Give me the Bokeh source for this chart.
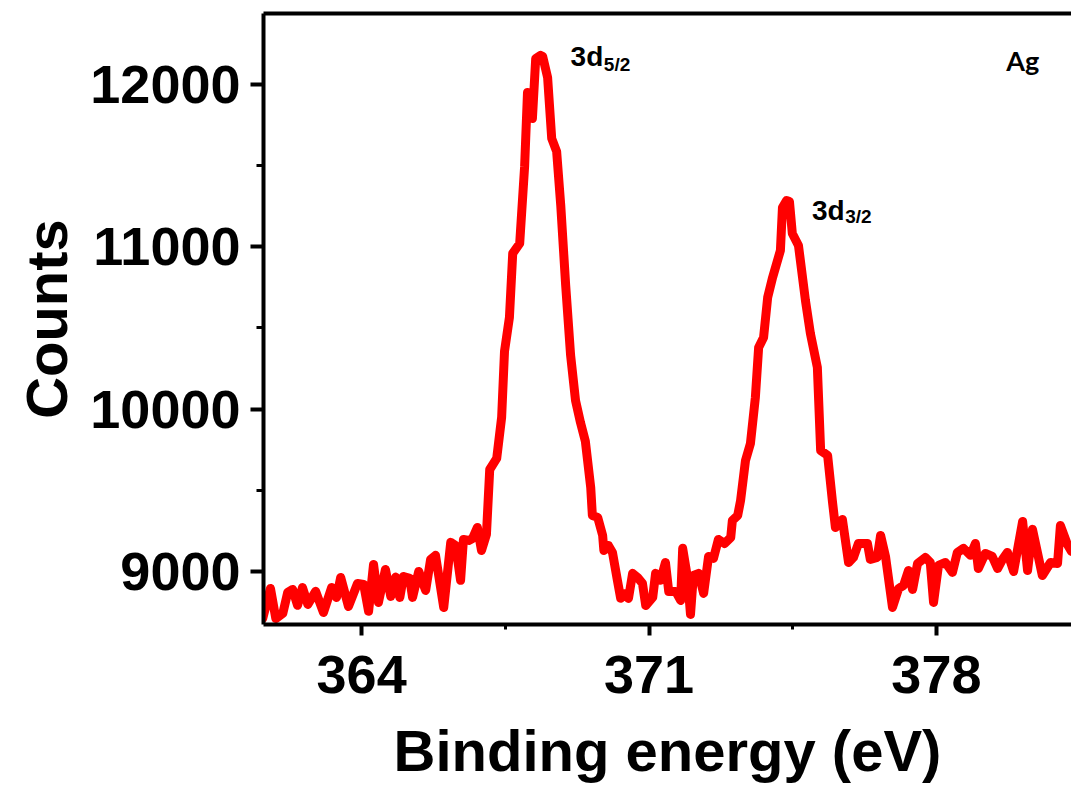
from bokeh.plotting import figure
from bokeh.models import Range1d, FixedTicker, LinearAxis, Label
from bokeh.embed import file_html
from bokeh.resources import INLINE

# Binding energy (eV) and counts
energy = [361.59, 361.78, 361.91, 362.08, 362.20, 362.32, 362.44, 362.56, 362.69, 362.88,
          363.07, 363.27, 363.39, 363.49, 363.68, 363.90, 364.05, 364.17, 364.29, 364.41,
          364.58, 364.71, 364.83, 364.93, 365.02, 365.17, 365.24, 365.39, 365.56, 365.68,
          365.80, 366.00, 366.17, 366.29, 366.41, 366.48, 366.61, 366.70, 366.82, 366.92,
          367.04, 367.12, 367.29, 367.41, 367.48, 367.60, 367.68, 367.85, 367.97, 368.04,
          368.16, 368.24, 368.36, 368.41, 368.53, 368.63, 368.75, 368.85, 368.97, 369.09,
          369.21, 369.33, 369.45, 369.58, 369.62, 369.75, 369.87, 369.90, 370.01, 370.11,
          370.23, 370.31, 370.43, 370.50, 370.60, 370.72, 370.84, 370.92, 371.09, 371.16,
          371.28, 371.40, 371.48, 371.65, 371.77, 371.82, 371.94, 372.01, 372.08, 372.21,
          372.33, 372.45, 372.57, 372.69, 372.84, 372.99, 373.03, 373.16, 373.23, 373.35,
          373.47, 373.59, 373.67, 373.79, 373.89, 374.01, 374.20, 374.25, 374.35, 374.42,
          374.49, 374.64, 374.81, 374.93, 375.10, 375.18, 375.35, 375.47, 375.54, 375.71,
          375.86, 375.98, 376.10, 376.32, 376.39, 376.56, 376.64, 376.76, 376.93, 377.08,
          377.20, 377.32, 377.42, 377.54, 377.73, 377.85, 377.93, 378.05, 378.22, 378.39,
          378.51, 378.66, 378.83, 378.95, 379.02, 379.19, 379.36, 379.49, 379.61, 379.73,
          379.88, 380.10, 380.22, 380.34, 380.58, 380.78, 380.95, 381.02, 381.19, 381.29]

counts = [8710, 8895, 8710, 8741, 8871, 8889, 8791, 8901, 8797, 8877,
          8747, 8901, 8840, 8963, 8784, 8926, 8920, 8754, 9043, 8809,
          9012, 8846, 8965, 8840, 8969, 8957, 8840, 9000, 8883, 9074,
          9099, 8778, 9179, 9160, 8945, 9197, 9191, 9203, 9271, 9129,
          9228, 9628, 9696, 9949, 10355, 10565, 10959, 11020, 11495, 11951,
          11790, 12160, 12179, 12172, 12043, 11667, 11587, 11255, 10762, 10331,
          10053, 9918, 9801, 9517, 9345, 9333, 9222, 9129, 9160, 9117,
          8945, 8834, 8864, 8834, 8988, 8963, 8926, 8790, 8840, 8988,
          8945, 9055, 8877, 8877, 8821, 9142, 8957, 8735, 8975, 8988,
          8864, 9092, 9080, 9197, 9172, 9209, 9314, 9345, 9437, 9684,
          9788, 10072, 10380, 10441, 10688, 10811, 10977, 11242, 11285, 11279,
          11082, 11008, 10669, 10466, 10257, 9745, 9715, 9425, 9271, 9320,
          9055, 9086, 9172, 9172, 9074, 9086, 9222, 9092, 8778, 8895,
          8914, 9006, 8889, 9049, 9086, 9055, 8809, 9037, 9055, 8994,
          9117, 9142, 9099, 9172, 9018, 9111, 9092, 9018, 9074, 9117,
          9000, 9308, 9006, 9259, 8975, 9055, 9049, 9283, 9166, 9123]

x_ticks = [364, 371, 378]
x_minor = [360.5, 367.5, 374.5, 381.5]
y_ticks = [9000, 10000, 11000, 12000]
y_minor = [8500, 9500, 10500, 11500, 12500]

FONT = "'Liberation Sans', Arial, sans-serif"

p = figure(width=1071, height=798, output_backend="svg", toolbar_location=None,
           x_range=Range1d(361.61, 381.29), y_range=Range1d(8673, 12437),
           min_border_left=263, min_border_right=0, min_border_top=13, min_border_bottom=174)
p.outline_line_color = None
p.xgrid.visible = False
p.ygrid.visible = False
p.background_fill_color = "white"
p.border_fill_color = "white"

p.line(energy, counts, line_color="#ff0000", line_width=9, line_join="round", line_cap="round")

for ax in (p.xaxis[0], p.yaxis[0]):
    ax.axis_line_width = 4
    ax.axis_line_color = "black"
    ax.major_tick_line_width = 4
    ax.minor_tick_line_width = 3
    ax.major_tick_in = 0
    ax.minor_tick_in = 0
    ax.major_label_text_font = FONT
    ax.major_label_text_font_style = "bold"
    ax.major_label_text_color = "black"
    ax.axis_label_text_font = FONT
    ax.axis_label_text_font_style = "bold"
    ax.axis_label_text_color = "black"
    ax.axis_label_text_font_size = "58px"

p.xaxis[0].ticker = FixedTicker(ticks=x_ticks, minor_ticks=x_minor)
p.yaxis[0].ticker = FixedTicker(ticks=y_ticks, minor_ticks=y_minor)
p.xaxis[0].major_tick_out = 11
p.xaxis[0].minor_tick_out = 5
p.yaxis[0].major_tick_out = 13
p.yaxis[0].minor_tick_out = 7
p.xaxis[0].major_label_text_font_size = "54px"
p.yaxis[0].major_label_text_font_size = "54px"
p.xaxis[0].major_label_standoff = 20
p.yaxis[0].major_label_standoff = 10
p.xaxis[0].axis_label = "Binding energy (eV)"
p.yaxis[0].axis_label = "Counts"
p.xaxis[0].axis_label_standoff = 22
p.yaxis[0].axis_label_standoff = 8

top = LinearAxis(ticker=FixedTicker(ticks=[]), axis_line_width=4, axis_line_color="black",
                 major_tick_out=0, minor_tick_out=0, major_label_standoff=0,
                 major_label_text_font_size="0px")
p.add_layout(top, "above")

def add_label(x, y, text, size, font=FONT):
    p.add_layout(Label(x=x, y=y, text=text, text_font=font, text_font_style="bold",
                       text_font_size=size, text_color="black",
                       text_align="left", text_baseline="alphabetic"))

add_label(369.09, 12172, "3d", "28px")
add_label(369.90, 12123, "5/2", "19px")
add_label(374.97, 11226, "3d", "28px")
add_label(375.78, 11187, "3/2", "19px")
add_label(379.70, 12150, "Ag", "27px", font="Lato")

open("out.html", "w").write(file_html(p, INLINE))
